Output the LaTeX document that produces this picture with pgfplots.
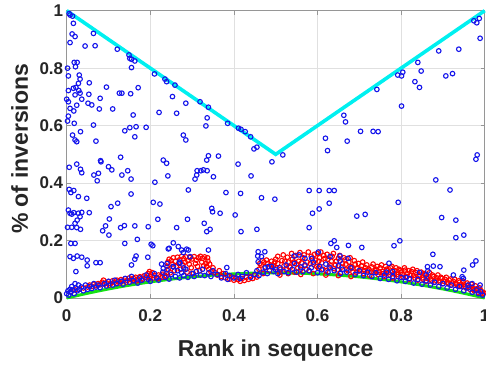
\documentclass[border=0pt]{standalone}
\usepackage{pgfplots}
\pgfplotsset{compat=1.18}
\usepackage{pgfplotstable}
\usepackage{fontspec}
\setmainfont{Liberation Sans}
\definecolor{mblue}{RGB}{20,20,235}
\definecolor{mred}{RGB}{255,0,0}
\definecolor{mgreen}{RGB}{20,225,20}
\definecolor{mcyan}{RGB}{0,240,240}
\definecolor{axgray}{RGB}{150,150,150}
\definecolor{txt}{RGB}{38,38,38}

\pgfplotstableread{
x y
0.010 0.022
0.020 0.028
0.030 0.030
0.040 0.035
0.050 0.038
0.055 0.045
0.060 0.040
0.065 0.048
0.070 0.043
0.075 0.050
0.080 0.046
0.085 0.055
0.088 0.062
0.090 0.048
0.095 0.052
0.100 0.057
0.102 0.045
0.105 0.050
0.110 0.060
0.115 0.055
0.118 0.050
0.120 0.062
0.125 0.058
0.128 0.052
0.130 0.064
0.135 0.060
0.140 0.067
0.142 0.055
0.145 0.061
0.150 0.070
0.155 0.064
0.158 0.060
0.160 0.068
0.165 0.072
0.168 0.060
0.170 0.066
0.175 0.074
0.180 0.069
0.182 0.065
0.185 0.077
0.190 0.071
0.195 0.085
0.198 0.068
0.198 0.092
0.200 0.074
0.205 0.088
0.208 0.070
0.210 0.078
0.215 0.072
0.218 0.068
0.220 0.080
0.225 0.076
0.228 0.072
0.230 0.083
0.235 0.079
0.238 0.075
0.240 0.110
0.242 0.125
0.243 0.100
0.245 0.135
0.248 0.088
0.250 0.130
0.252 0.118
0.255 0.140
0.258 0.095
0.260 0.128
0.262 0.110
0.265 0.142
0.268 0.120
0.270 0.133
0.272 0.100
0.275 0.145
0.278 0.115
0.280 0.137
0.283 0.125
0.285 0.143
0.288 0.090
0.290 0.130
0.293 0.118
0.295 0.141
0.298 0.105
0.300 0.136
0.303 0.085
0.305 0.144
0.308 0.120
0.310 0.132
0.313 0.110
0.315 0.140
0.318 0.095
0.320 0.145
0.323 0.125
0.325 0.138
0.328 0.112
0.330 0.143
0.333 0.120
0.335 0.110
0.337 0.140
0.338 0.128
0.340 0.100
0.342 0.118
0.345 0.092
0.350 0.105
0.355 0.088
0.360 0.080
0.365 0.095
0.370 0.075
0.375 0.085
0.380 0.070
0.385 0.078
0.390 0.066
0.395 0.073
0.400 0.062
0.405 0.070
0.410 0.064
0.415 0.058
0.420 0.068
0.425 0.061
0.430 0.072
0.435 0.065
0.440 0.075
0.445 0.068
0.450 0.080
0.455 0.073
0.460 0.100
0.462 0.120
0.465 0.115
0.468 0.130
0.470 0.085
0.472 0.125
0.475 0.108
0.478 0.132
0.480 0.120
0.485 0.095
0.488 0.115
0.490 0.128
0.495 0.112
0.498 0.125
0.500 0.105
0.500 0.135
0.505 0.120
0.505 0.145
0.510 0.090
0.510 0.080
0.512 0.100
0.515 0.130
0.518 0.150
0.520 0.112
0.522 0.128
0.525 0.098
0.528 0.142
0.530 0.125
0.530 0.085
0.533 0.110
0.535 0.107
0.538 0.155
0.540 0.135
0.543 0.125
0.545 0.090
0.548 0.148
0.550 0.118
0.553 0.105
0.555 0.128
0.558 0.158
0.560 0.100
0.560 0.082
0.562 0.122
0.565 0.140
0.568 0.150
0.570 0.112
0.573 0.100
0.575 0.125
0.578 0.160
0.580 0.095
0.583 0.120
0.585 0.145
0.588 0.138
0.590 0.118
0.590 0.085
0.593 0.152
0.595 0.132
0.598 0.110
0.600 0.155
0.602 0.105
0.603 0.128
0.605 0.140
0.608 0.160
0.610 0.122
0.613 0.100
0.615 0.148
0.618 0.138
0.620 0.095
0.620 0.080
0.623 0.152
0.625 0.135
0.628 0.108
0.630 0.115
0.633 0.128
0.635 0.145
0.638 0.155
0.640 0.102
0.643 0.115
0.645 0.128
0.648 0.098
0.650 0.138
0.650 0.078
0.653 0.148
0.655 0.088
0.658 0.108
0.660 0.120
0.663 0.140
0.665 0.132
0.668 0.118
0.670 0.100
0.673 0.095
0.675 0.125
0.678 0.140
0.680 0.110
0.680 0.075
0.683 0.105
0.685 0.090
0.688 0.130
0.690 0.118
0.693 0.090
0.695 0.102
0.698 0.120
0.700 0.095
0.703 0.100
0.705 0.112
0.708 0.125
0.710 0.085
0.713 0.095
0.715 0.105
0.718 0.115
0.720 0.095
0.723 0.100
0.725 0.078
0.728 0.090
0.730 0.108
0.733 0.118
0.735 0.090
0.738 0.095
0.740 0.100
0.743 0.110
0.745 0.082
0.748 0.090
0.750 0.105
0.753 0.115
0.755 0.092
0.758 0.085
0.760 0.075
0.763 0.110
0.765 0.100
0.768 0.095
0.770 0.088
0.773 0.080
0.775 0.105
0.778 0.110
0.780 0.070
0.783 0.085
0.785 0.095
0.788 0.105
0.790 0.082
0.793 0.075
0.795 0.100
0.798 0.095
0.800 0.090
0.803 0.082
0.805 0.072
0.808 0.105
0.810 0.097
0.813 0.075
0.815 0.085
0.818 0.095
0.820 0.065
0.823 0.080
0.825 0.092
0.828 0.100
0.830 0.078
0.833 0.070
0.835 0.088
0.838 0.095
0.840 0.062
0.843 0.075
0.845 0.080
0.848 0.090
0.850 0.070
0.853 0.065
0.855 0.085
0.858 0.082
0.860 0.058
0.863 0.068
0.865 0.075
0.868 0.088
0.870 0.066
0.873 0.060
0.875 0.080
0.878 0.075
0.880 0.055
0.883 0.062
0.885 0.070
0.888 0.080
0.890 0.060
0.893 0.055
0.895 0.072
0.898 0.068
0.900 0.050
0.903 0.058
0.905 0.065
0.908 0.072
0.910 0.055
0.913 0.050
0.915 0.062
0.918 0.066
0.920 0.045
0.923 0.052
0.925 0.058
0.928 0.065
0.930 0.050
0.933 0.048
0.935 0.042
0.938 0.060
0.940 0.055
0.943 0.045
0.945 0.040
0.948 0.058
0.950 0.048
0.953 0.040
0.955 0.035
0.958 0.052
0.960 0.044
0.963 0.038
0.965 0.030
0.968 0.048
0.970 0.038
0.973 0.030
0.975 0.025
0.978 0.042
0.980 0.032
0.983 0.028
0.985 0.020
0.988 0.035
0.990 0.026
0.993 0.022
0.995 0.015
0.998 0.018
}\redband

\pgfplotstableread{
x y
0.000 0.015
0.003 0.025
0.005 0.010
0.008 0.030
0.010 0.020
0.012 0.040
0.015 0.028
0.018 0.015
0.020 0.050
0.022 0.035
0.025 0.025
0.028 0.045
0.030 0.030
0.035 0.038
0.040 0.025
0.045 0.045
0.050 0.030
0.055 0.040
0.060 0.033
0.065 0.050
0.070 0.038
0.075 0.045
0.080 0.036
0.090 0.050
0.095 0.042
0.100 0.058
0.110 0.045
0.115 0.062
0.120 0.050
0.130 0.058
0.135 0.048
0.140 0.068
0.150 0.055
0.155 0.075
0.160 0.060
0.170 0.052
0.175 0.070
0.180 0.062
0.190 0.080
0.195 0.065
0.200 0.058
0.210 0.085
0.215 0.070
0.220 0.062
0.230 0.090
0.235 0.072
0.240 0.098
0.245 0.066
0.250 0.082
0.255 0.108
0.260 0.075
0.265 0.095
0.270 0.070
0.275 0.088
0.280 0.078
0.285 0.100
0.290 0.072
0.300 0.085
0.305 0.075
0.310 0.092
0.320 0.080
0.325 0.100
0.330 0.078
0.340 0.088
0.345 0.075
0.350 0.095
0.360 0.082
0.370 0.070
0.380 0.085
0.385 0.065
0.390 0.078
0.400 0.070
0.410 0.082
0.415 0.068
0.420 0.075
0.430 0.088
0.440 0.072
0.450 0.082
0.455 0.095
0.460 0.078
0.470 0.090
0.475 0.105
0.480 0.085
0.490 0.110
0.495 0.092
0.500 0.098
0.505 0.085
0.510 0.105
0.520 0.092
0.525 0.115
0.530 0.088
0.540 0.100
0.545 0.120
0.550 0.090
0.560 0.108
0.565 0.092
0.570 0.115
0.580 0.095
0.585 0.105
0.590 0.125
0.600 0.088
0.605 0.110
0.610 0.098
0.620 0.118
0.625 0.090
0.630 0.105
0.640 0.095
0.650 0.112
0.655 0.085
0.660 0.100
0.670 0.090
0.680 0.105
0.690 0.082
0.700 0.095
0.710 0.078
0.720 0.090
0.730 0.075
0.740 0.088
0.750 0.068
0.760 0.080
0.770 0.065
0.780 0.075
0.790 0.060
0.800 0.072
0.810 0.058
0.820 0.068
0.830 0.052
0.840 0.065
0.850 0.048
0.860 0.060
0.870 0.045
0.880 0.055
0.890 0.040
0.900 0.050
0.910 0.035
0.920 0.045
0.930 0.030
0.940 0.040
0.950 0.025
0.960 0.035
0.970 0.020
0.980 0.028
0.985 0.015
0.990 0.022
0.995 0.010
0.006 0.990
0.014 0.981
0.008 0.985
0.016 0.956
0.013 0.919
0.020 0.910
0.008 0.889
0.044 0.877
0.064 0.921
0.068 0.878
0.121 0.866
0.149 0.846
0.151 0.834
0.155 0.831
0.163 0.825
0.155 0.802
0.018 0.820
0.025 0.820
0.021 0.805
0.002 0.800
0.030 0.776
0.032 0.762
0.004 0.773
0.028 0.747
0.022 0.733
0.016 0.730
0.004 0.722
0.029 0.722
0.032 0.713
0.020 0.707
0.036 0.692
0.000 0.692
0.004 0.683
0.054 0.749
0.053 0.709
0.051 0.678
0.060 0.672
0.080 0.695
0.078 0.658
0.095 0.734
0.110 0.658
0.126 0.713
0.132 0.713
0.153 0.711
0.171 0.732
0.008 0.660
0.017 0.651
0.024 0.671
0.004 0.633
0.002 0.616
0.018 0.608
0.064 0.602
0.033 0.579
0.014 0.567
0.020 0.550
0.024 0.544
0.070 0.546
0.139 0.582
0.151 0.593
0.166 0.596
0.163 0.561
0.190 0.594
0.159 0.637
0.221 0.646
0.263 0.643
0.210 0.780
0.235 0.762
0.239 0.753
0.259 0.741
0.253 0.701
0.285 0.678
0.319 0.683
0.339 0.664
0.336 0.627
0.333 0.599
0.279 0.567
0.285 0.550
0.385 0.608
0.411 0.591
0.417 0.587
0.427 0.579
0.440 0.561
0.448 0.519
0.455 0.525
0.129 0.490
0.081 0.478
0.231 0.480
0.339 0.495
0.363 0.494
0.335 0.480
0.974 0.965
0.981 0.958
0.987 0.973
0.989 0.904
0.890 0.860
0.938 0.866
0.840 0.820
0.848 0.790
0.804 0.786
0.792 0.776
0.801 0.773
0.907 0.773
0.923 0.781
0.833 0.753
0.844 0.733
0.742 0.726
0.801 0.668
0.663 0.636
0.667 0.613
0.619 0.556
0.624 0.513
0.671 0.546
0.703 0.580
0.733 0.580
0.745 0.579
0.517 0.498
0.982 0.498
0.979 0.483
0.006 0.455
0.024 0.466
0.033 0.448
0.036 0.436
0.065 0.428
0.076 0.434
0.073 0.408
0.082 0.474
0.100 0.457
0.108 0.446
0.132 0.428
0.146 0.443
0.154 0.414
0.211 0.403
0.239 0.469
0.242 0.425
0.307 0.414
0.311 0.428
0.312 0.443
0.321 0.443
0.327 0.446
0.336 0.443
0.351 0.422
0.410 0.466
0.441 0.425
0.491 0.474
0.006 0.378
0.017 0.374
0.010 0.367
0.028 0.353
0.048 0.347
0.004 0.306
0.008 0.295
0.012 0.292
0.017 0.297
0.028 0.295
0.036 0.298
0.054 0.297
0.032 0.283
0.025 0.271
0.020 0.260
0.002 0.246
0.012 0.246
0.024 0.245
0.033 0.239
0.154 0.362
0.122 0.330
0.106 0.318
0.102 0.275
0.093 0.251
0.086 0.234
0.101 0.219
0.129 0.245
0.138 0.252
0.163 0.251
0.195 0.248
0.207 0.333
0.223 0.327
0.218 0.274
0.263 0.245
0.289 0.274
0.291 0.376
0.329 0.260
0.335 0.231
0.343 0.239
0.347 0.312
0.349 0.300
0.367 0.295
0.381 0.367
0.403 0.289
0.416 0.364
0.417 0.231
0.455 0.239
0.466 0.349
0.498 0.344
0.010 0.190
0.020 0.190
0.139 0.190
0.169 0.204
0.202 0.187
0.206 0.182
0.194 0.142
0.243 0.171
0.255 0.192
0.267 0.179
0.275 0.167
0.279 0.158
0.287 0.170
0.339 0.167
0.008 0.144
0.016 0.138
0.025 0.146
0.036 0.142
0.049 0.132
0.049 0.112
0.070 0.123
0.080 0.123
0.022 0.092
0.155 0.115
0.163 0.135
0.166 0.146
0.227 0.118
0.231 0.103
0.271 0.121
0.458 0.161
0.474 0.161
0.457 0.146
0.245 0.173
0.291 0.167
0.295 0.144
0.383 0.106
0.466 0.144
0.458 0.126
0.482 0.109
0.240 0.120
0.255 0.110
0.270 0.125
0.280 0.105
0.883 0.411
0.917 0.376
0.580 0.374
0.604 0.374
0.628 0.374
0.640 0.374
0.628 0.330
0.604 0.310
0.588 0.295
0.793 0.333
0.694 0.285
0.714 0.291
0.897 0.280
0.931 0.271
0.580 0.245
0.931 0.210
0.950 0.219
0.632 0.190
0.640 0.199
0.646 0.176
0.674 0.183
0.706 0.176
0.673 0.138
0.654 0.146
0.797 0.199
0.783 0.182
0.876 0.152
0.979 0.129
0.971 0.115
0.893 0.109
0.877 0.111
0.863 0.109
0.950 0.097
0.771 0.121
0.544 0.146
0.556 0.150
0.602 0.160
0.570 0.138
0.586 0.138
0.630 0.144
0.654 0.129
0.864 0.094
0.844 0.089
0.860 0.080
0.812 0.071
0.925 0.080
0.946 0.074
0.949 0.068
0.989 0.045
0.960 0.045
0.970 0.050
0.765 0.090
0.780 0.092
}\bluepts

\pgfplotstableread{
x y
0 0
0.05 0.0166
0.1 0.0315
0.15 0.0446
0.2 0.056
0.25 0.0656
0.3 0.0735
0.35 0.0796
0.4 0.084
0.45 0.0866
0.5 0.0875
0.55 0.0866
0.6 0.084
0.65 0.0796
0.7 0.0735
0.75 0.0656
0.8 0.056
0.85 0.0446
0.9 0.0315
0.95 0.0166
1 0
}\greencurve

\begin{document}
\begin{tikzpicture}
\begin{axis}[
  at={(0,0)}, anchor=south west,
  scale only axis, width=418pt, height=287.3pt,
  xmin=0, xmax=1, ymin=0, ymax=1,
  xtick={0,0.2,0.4,0.6,0.8,1},
  ytick={0,0.2,0.4,0.6,0.8,1},
  xticklabels={0,0.2,0.4,0.6,0.8,1},
  yticklabels={0,0.2,0.4,0.6,0.8,1},
  xtick pos=both, ytick pos=both,
  xticklabel pos=left, yticklabel pos=left,
  tick align=inside, major tick length=4pt,
  tick style={axgray, line width=0.6pt},
  axis line style={axgray, line width=0.8pt},
  grid=major, major grid style={black!12, line width=0.5pt},
  tick label style={font=\fontsize{17}{20}\selectfont\bfseries, text=txt},
  xticklabel style={yshift=-8pt},
  label style={font=\fontsize{23}{27}\selectfont\bfseries, text=txt},
  xlabel={Rank in sequence},
  ylabel={\% of inversions},
  xlabel style={at={(axis description cs:0.5,-0.204)}, anchor=base},
  ylabel style={at={(axis description cs:-0.0926,0.519)}, anchor=base},
  clip=false,
]
\addplot[only marks, mark=o, mark size=2.3pt, mred, mark options={line width=1.1pt}] table {\redband};
\addplot[only marks, mark=o, mark size=2.3pt, mblue, mark options={line width=1.1pt}] table {\bluepts};
\addplot[mgreen, line width=3pt, smooth] table {\greencurve};
\addplot[mcyan, line width=3.6pt] coordinates {(0,1) (0.5,0.5) (1,1)};
\end{axis}
\pgfresetboundingbox
\useasboundingbox (-66.7pt,-68pt) rectangle (419.3pt,298pt);
\end{tikzpicture}
\end{document}
